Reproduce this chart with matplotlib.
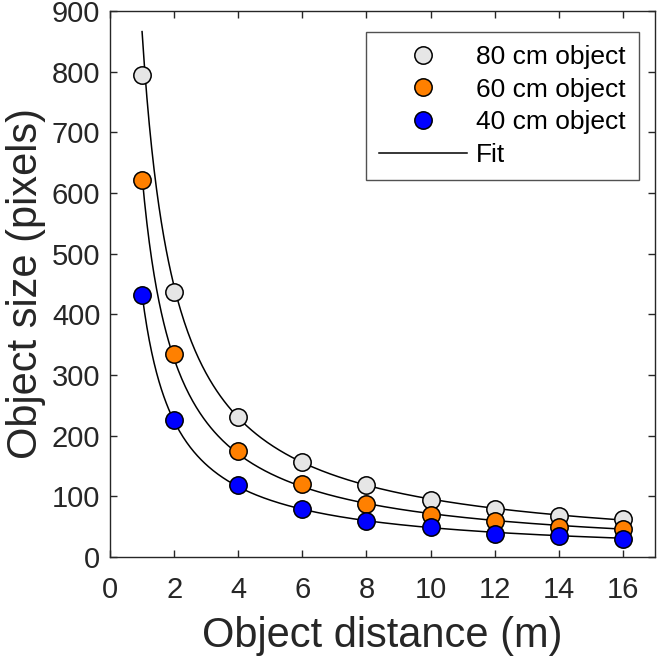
import numpy as np
import matplotlib
matplotlib.use("Agg")
import matplotlib.pyplot as plt

# measured object size vs distance
distance = [1, 2, 4, 6, 8, 10, 12, 14, 16]
size_80 = [795, 436, 230, 157, 119, 94, 79, 68, 63]
size_60 = [621, 334, 174, 120, 88, 69, 59, 50, 46]
size_40 = [432, 226, 119, 79, 59, 49, 38, 34, 30]

labels = ["80 cm object", "60 cm object", "40 cm object"]
colors = ["#e6e6e6", "#ff8000", "#0000ff"]

# power law fits  size = a * d^-p
fit_a = [866, 628, 433]
fit_p = [0.957, 0.943, 0.951]

plt.rcParams['font.family'] = ['Liberation Sans', 'DejaVu Sans']
text_col = "#262626"

fig = plt.figure(figsize=(6.58, 6.61), dpi=100)
ax = fig.add_axes([0.1672, 0.1573, 0.8282, 0.8261])

d_fit = np.linspace(1.0, 16, 400)
for a, p in zip(fit_a, fit_p):
    ax.plot(d_fit, a * d_fit ** (-p), color="black", lw=1.1, zorder=2)

handles = []
for vals, col, lab in zip([size_80, size_60, size_40], colors, labels):
    h, = ax.plot(distance, vals, "o", ms=12.5, mfc=col, mec="black", mew=1.1,
                 label=lab, zorder=3, clip_on=False)
    handles.append(h)
fit_handle, = ax.plot([], [], color="black", lw=1.1, label="Fit")
handles.append(fit_handle)

ax.set_xlim(0, 17)
ax.set_ylim(0, 900)
ax.set_xticks(np.arange(0, 17, 2))
ax.set_yticks(np.arange(0, 901, 100))
ax.tick_params(direction="in", top=True, right=True, length=5, width=1,
               labelsize=21, colors=text_col)
ax.tick_params(axis="x", pad=14)
ax.tick_params(axis="y", pad=7)
for s in ax.spines.values():
    s.set_color(text_col)
    s.set_linewidth(1)

ax.set_xlabel("Object distance (m)", fontsize=30, color=text_col, labelpad=8)
ax.set_ylabel("Object size (pixels)", fontsize=30, color=text_col, labelpad=4)

leg = ax.legend(handles=handles, loc="upper right", bbox_to_anchor=(0.97, 0.962),
                borderaxespad=0, fontsize=19, frameon=True, fancybox=False,
                handlelength=3.3, handletextpad=0.35, labelspacing=0.33,
                borderpad=0.5, numpoints=1)
leg.get_frame().set_edgecolor(text_col)
leg.get_frame().set_linewidth(1)
for t in leg.get_texts():
    t.set_color("black")

fig.savefig("out.png", dpi=100)
